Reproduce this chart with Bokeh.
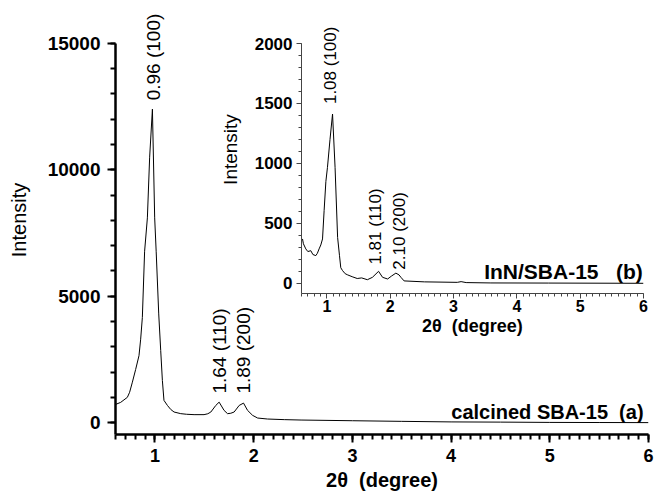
import math
from bokeh.plotting import figure
from bokeh.models import SingleIntervalTicker, Label, Range1d, ColumnDataSource
from bokeh.layouts import column
from bokeh.embed import file_html
from bokeh.resources import INLINE

# ---- main pattern: calcined SBA-15 (a)
two_theta_a = [0.601, 0.652, 0.720, 0.743, 0.771, 0.804, 0.838, 0.855, 0.872, 0.895,
               0.923, 0.946, 0.974, 0.997, 1.012, 1.038, 1.058, 1.075, 1.091, 1.126,
               1.16, 1.193, 1.261, 1.32, 1.396, 1.497, 1.535, 1.566, 1.616, 1.650,
               1.700, 1.735, 1.768, 1.802, 1.853, 1.897, 1.938, 1.989, 2.04, 2.14,
               2.31, 2.48, 3.0, 3.5, 4.0, 4.5, 5.0, 5.5, 6.0]
intensity_a = [720, 800, 1000, 1200, 1600, 2100, 2650, 3300, 4160, 6780,
               8100, 10500, 12400, 8100, 6780, 4300, 2850, 1665, 880, 680,
               520, 420, 355, 330, 315, 315, 350, 420, 680, 810,
               484, 354, 370, 420, 680, 772, 484, 287, 181, 142,
               118, 102, 75, 50, 28, 20, 8, 4, 0]

# ---- inset pattern: InN/SBA-15 (b)
two_theta_b = [0.616, 0.63, 0.668, 0.70, 0.747, 0.78, 0.826, 0.85, 0.878, 0.905,
               0.932, 0.957, 0.985, 1.01, 1.05, 1.09, 1.13, 1.17, 1.20, 1.22,
               1.248, 1.29, 1.33, 1.40, 1.48, 1.55, 1.64, 1.72, 1.817, 1.88,
               1.96, 2.02, 2.09, 2.14, 2.17, 2.22, 2.54, 3.06, 3.12, 3.2,
               3.59, 4.5, 6.0]
intensity_b = [370, 330, 287, 265, 272, 240, 231, 250, 287, 320,
               370, 606, 850, 967, 1200, 1412, 967, 383, 230, 130,
               106, 80, 70, 55, 40, 45, 30, 50, 100, 50,
               36, 60, 85, 70, 50, 20, 12, 8, 14, 6,
               3, 2, 0]

# peak annotations (text, x, y)
main_peak_text = ["0.96 (100)", "1.64 (110)", "1.89 (200)"]
main_peak_x = [0.985, 1.65, 1.90]
main_peak_y = [12750, 1150, 1150]
inset_peak_text = ["1.08 (100)", "1.81 (110)", "2.10 (200)"]
inset_peak_x = [1.063, 1.77, 2.15]
inset_peak_y = [1495, 156, 114]

FONT = "Liberation Sans"
NB = "\u00a0"


def style_axes(p, line_w, tick_w, major_out, minor_out, color):
    for ax in (p.xaxis[0], p.yaxis[0]):
        ax.axis_line_width = line_w
        ax.axis_line_color = color
        ax.major_tick_line_width = tick_w
        ax.minor_tick_line_width = tick_w
        ax.major_tick_line_color = color
        ax.minor_tick_line_color = color
        ax.major_tick_out = major_out
        ax.major_tick_in = 0
        ax.minor_tick_out = minor_out
        ax.minor_tick_in = 0
        ax.major_label_text_font = FONT
        ax.major_label_text_font_style = "bold"
        ax.major_label_text_color = "black"
        ax.axis_label_text_font = FONT
        ax.axis_label_text_color = "black"


# ---------------- main figure ----------------
main = figure(width=654, height=495, x_range=Range1d(0.6, 6), y_range=Range1d(-470, 16500),
              output_backend="svg", toolbar_location=None,
              min_border_left=115, min_border_top=5, min_border_right=6, min_border_bottom=61)
main.grid.visible = False
main.outline_line_color = None
main.xaxis.ticker = SingleIntervalTicker(interval=1, num_minor_ticks=10)
main.yaxis.ticker = SingleIntervalTicker(interval=5000, num_minor_ticks=5)
main.yaxis.bounds = (-470, 15000)
style_axes(main, 2.5, 2, 8, 5, "black")
main.xaxis.major_label_text_font_size = "18px"
main.yaxis.major_label_text_font_size = "19px"
main.xaxis.major_label_standoff = 6
main.yaxis.major_label_standoff = 7
main.xaxis.axis_label = "2θ" + NB + NB + "(degree)"
main.xaxis.axis_label_text_font_style = "bold"
main.xaxis.axis_label_text_font_size = "20px"
main.xaxis.axis_label_standoff = 4
main.yaxis.axis_label = "Intensity"
main.yaxis.axis_label_text_font_style = "normal"
main.yaxis.axis_label_text_font_size = "20px"
main.yaxis.axis_label_standoff = 15

main.line(x="x", y="y", source=ColumnDataSource(dict(x=two_theta_a, y=intensity_a)),
          line_color="black", line_width=1)

for t, x, y in zip(main_peak_text, main_peak_x, main_peak_y):
    main.add_layout(Label(x=x, y=y, text=t, angle=math.pi / 2, text_align="left",
                          text_baseline="middle", text_font=FONT, text_font_size="19px",
                          text_color="black"))
main.add_layout(Label(x=5.95, y=420, text="calcined SBA-15" + NB + NB + "(a)", text_align="right",
                      text_baseline="alphabetic", text_font=FONT, text_font_size="20px",
                      text_font_style="bold", text_color="black"))

# ---------------- inset figure ----------------
# (the column aligns side borders of its children, so the inset uses the same
#  left/right borders as the main figure and is shifted with a margin)
inset = figure(width=463, height=348, x_range=Range1d(0.6, 6), y_range=Range1d(-85, 2317),
               output_backend="svg", toolbar_location=None,
               min_border_left=115, min_border_top=5, min_border_right=6, min_border_bottom=55)
inset.background_fill_color = None
inset.border_fill_color = None
inset.grid.visible = False
inset.outline_line_color = None
inset.xaxis.ticker = SingleIntervalTicker(interval=1, num_minor_ticks=10)
inset.yaxis.ticker = SingleIntervalTicker(interval=500, num_minor_ticks=5)
inset.yaxis.bounds = (-85, 2000)
style_axes(inset, 1, 1, 5, 3, "#444444")
inset.xaxis.major_label_text_font_size = "16px"
inset.yaxis.major_label_text_font_size = "17px"
inset.xaxis.major_label_standoff = 1
inset.yaxis.major_label_standoff = 4
inset.xaxis.axis_label = "2θ" + NB + NB + "(degree)"
inset.xaxis.axis_label_text_font_style = "bold"
inset.xaxis.axis_label_text_font_size = "18px"
inset.xaxis.axis_label_standoff = 1
inset.yaxis.axis_label = "Intensity"
inset.yaxis.axis_label_text_font_style = "normal"
inset.yaxis.axis_label_text_font_size = "19px"
inset.yaxis.axis_label_standoff = 11

inset.line(x="x", y="y", source=ColumnDataSource(dict(x=two_theta_b, y=intensity_b)),
           line_color="black", line_width=1)

for t, x, y in zip(inset_peak_text, inset_peak_x, inset_peak_y):
    inset.add_layout(Label(x=x, y=y, text=t, angle=math.pi / 2, text_align="left",
                           text_baseline="middle", text_font=FONT, text_font_size="17px",
                           text_color="black"))
inset.add_layout(Label(x=5.99, y=100, text="InN/SBA-15" + NB + NB + NB + "(b)", text_align="right",
                       text_baseline="alphabetic", text_font=FONT, text_font_size="21px",
                       text_font_style="bold", text_color="black"))

inset.margin = (-495, 0, 0, 186)

layout = column(main, inset, spacing=0)
open("out.html", "w").write(file_html(layout, INLINE))
